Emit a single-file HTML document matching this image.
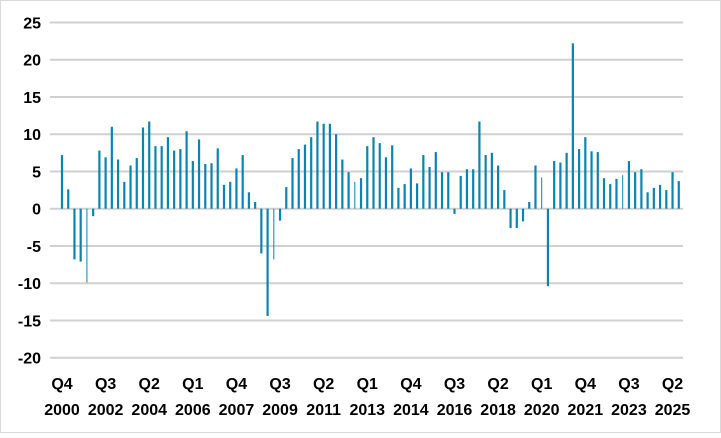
<!DOCTYPE html>
<html><head><meta charset="utf-8"><style>
body{margin:0;background:#fff}
svg text{font-family:"Liberation Sans",sans-serif;font-weight:bold;font-size:16px;fill:#000}
</style></head><body>
<svg width="721" height="433" xmlns="http://www.w3.org/2000/svg">
<rect x="0.5" y="0.5" width="720" height="432" fill="#fff" stroke="#d9d9d9"/>
<g id="grid" stroke="#d0d0d0" stroke-width="2"></g>
<g id="yl" text-anchor="end"></g>
<g id="bars" fill="#0a84b0"></g>
<g id="xl" text-anchor="middle"></g>
</svg>
<script>
const ns="http://www.w3.org/2000/svg";
const z=208.7,u=7.45;
const g=document.getElementById('grid'),yl=document.getElementById('yl');
for(let v=25;v>=-20;v-=5){const y=z-v*u;
 if(v!==0){const l=document.createElementNS(ns,'line');l.setAttribute('x1',50);l.setAttribute('x2',683);l.setAttribute('y1',y);l.setAttribute('y2',y);g.appendChild(l);}
 const t=document.createElementNS(ns,'text');t.setAttribute('x',41);t.setAttribute('y',y+6);t.textContent=v;yl.appendChild(t);}
const zl=document.createElementNS(ns,'line');zl.setAttribute('x1',50);zl.setAttribute('x2',683);zl.setAttribute('y1',z);zl.setAttribute('y2',z);g.appendChild(zl);
const d=[7.2,2.6,-6.8,-7.1,-9.9,-1.0,7.8,6.9,11.0,6.6,3.6,5.8,6.8,10.9,11.7,8.4,8.4,9.6,7.8,8.0,10.4,6.4,9.3,6.0,6.1,8.1,3.2,3.6,5.4,7.2,2.2,0.9,-6.0,-14.4,-6.8,-1.6,2.9,6.8,8.0,8.6,9.6,11.7,11.4,11.4,10.0,6.6,4.9,3.6,4.1,8.4,9.6,8.8,6.9,8.5,2.8,3.3,5.4,3.4,7.2,5.6,7.6,4.9,4.9,-0.7,4.4,5.3,5.3,11.7,7.2,7.5,5.8,2.5,-2.6,-2.6,-1.7,0.9,5.8,4.2,-10.4,6.4,6.2,7.5,22.2,8.0,9.6,7.7,7.6,4.1,3.3,4.0,4.5,6.4,4.9,5.3,2.2,2.8,3.2,2.5,4.9,3.7];
const thin=new Set([4,34,47,77,90]);
const b=document.getElementById('bars');
d.forEach((v,i)=>{const x=62+i*6.23;const w=thin.has(i)?1:2.2;const r=document.createElementNS(ns,'rect');
 const y=v>=0?z-v*u:z;r.setAttribute('x',x-w/2);r.setAttribute('y',y);r.setAttribute('width',w);r.setAttribute('height',Math.abs(v)*u);b.appendChild(r);});
const labs=[["Q4","2000"],["Q3","2002"],["Q2","2004"],["Q1","2006"],["Q4","2007"],["Q3","2009"],["Q2","2011"],["Q1","2013"],["Q4","2014"],["Q3","2016"],["Q2","2018"],["Q1","2020"],["Q4","2021"],["Q3","2023"],["Q2","2025"]];
const xl=document.getElementById('xl');
labs.forEach((l,i)=>{const x=62+i*7*6.23;
 [[l[0],389],[l[1],415]].forEach(([s,y])=>{const t=document.createElementNS(ns,'text');t.setAttribute('x',x);t.setAttribute('y',y);t.textContent=s;xl.appendChild(t);});});
</script>
</body></html>
